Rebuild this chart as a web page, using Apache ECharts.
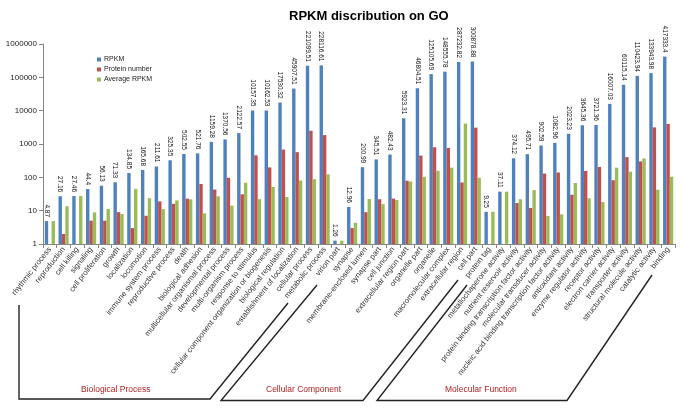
<!DOCTYPE html>
<html>
<head>
<meta charset="utf-8">
<script src="https://cdn.jsdelivr.net/npm/echarts@6/dist/echarts.min.js"></script>
<style>
html,body{margin:0;padding:0;background:#fff;}
#c{width:683px;height:409px;}
</style>
</head>
<body>
<div id="c"></div>
<script>
const categories = [
  "rhythmic process","reproduction","cell killing","signaling","cell proliferation","growth",
  "localization","locomotion","immune system process","reproductive process","death",
  "biological adhesion","multicellular organismal process","developmental process",
  "multi-organism process","response to stimulus","cellular component organization or biogenesis",
  "biological regulation","establishment of localization","cellular process","metabolic process",
  "virion part","synapse","membrane-enclosed lumen","synapse part","cell junction",
  "extracellular region part","organelle part","organelle","macromolecular complex",
  "extracellular region","cell part",
  "protein tag","metallochaperone activity","nutrient reservoir activity",
  "protein binding transcription factor activity","molecular transducer activity",
  "nucleic acid binding transcription factor activity","antioxidant activity",
  "enzyme regulator activity","receptor activity","electron carrier activity",
  "transporter activity","structural molecule activity","catalytic activity","binding"
];
const rpkm = [
  4.87,27.16,27.46,44.4,56.13,71.33,134.85,165.68,211.61,325.35,502.55,521.76,1159.28,1370.56,
  2122.57,10157.35,10162.53,17530.32,45907.51,221099.51,228116.61,
  1.26,12.96,200.99,345.51,482.43,5923.31,46804.51,125105.69,148555.78,287232.82,300878.88,
  9.25,37.11,374.12,495.71,902.59,1082.96,2023.23,3645.36,3721.36,16007.03,60115.14,
  110423.94,133943.98,417333.4
];
const proteinNumber = [
  1,2,1,5,5,9,3,7,19,16,23,63,43,97,31,458,198,680,570,2500,1850,
  1,3,9,22,23,79,450,800,760,70,3100,
  1,1,17,12,130,140,30,155,205,82,405,300,3150,4000
];
const averageRpkm = [
  4.87,13.58,27.46,8.88,11.23,7.93,44.95,23.67,11.14,20.33,21.85,8.28,26.96,14.13,68.47,
  22.18,51.33,25.78,80.54,88.44,123.31,
  1.26,4.32,22.33,15.71,20.98,74.98,104.01,156.38,195.47,4103.33,97.06,
  9.25,37.11,22.01,41.31,6.94,7.74,67.44,23.52,18.15,195.21,148.43,368.08,42.52,104.33
];
const yTicks = ["1","10","100","1000","10000","100000","1000000"];
const groups = ["Biological Process","Cellular Component","Molecular Function"];

const FONT = '"Liberation Sans", Arial, sans-serif';
const chart = echarts.init(document.getElementById('c'), null, {renderer:'canvas'});
const lineStyle = {stroke:'#222', lineWidth:1.4, fill:null};
const groupText = (t, x) => ({
  type:'text', left:x, top:385,
  style:{text:t, fill:'#B22222', font:'8.5px ' + FONT}
});
chart.setOption({
  animation:false,
  backgroundColor:'#fff',
  textStyle:{fontFamily:FONT},
  title:{
    text:'RPKM discribution on GO', left:284, top:5,
    textStyle:{fontSize:13, fontWeight:'bold', color:'#000', fontFamily:FONT}
  },
  legend:{
    orient:'vertical', left:92, top:51,
    itemWidth:4, itemHeight:4, itemGap:3,
    icon:'rect',
    textStyle:{fontSize:7, color:'#222', fontFamily:FONT, padding:[0,0,0,-2]},
    data:['RPKM','Protein number','Average RPKM']
  },
  grid:{left:43, right:8, top:44, bottom:165, containLabel:false},
  xAxis:{
    type:'category', data:categories,
    axisLine:{lineStyle:{color:'#868686'}},
    axisTick:{show:true, length:4, lineStyle:{color:'#868686'}},
    axisLabel:{interval:0, rotate:52, fontSize:7.8, color:'#333', margin:4, fontFamily:FONT}
  },
  yAxis:{
    type:'log', logBase:10, min:1, max:1000000,
    axisLine:{show:true, lineStyle:{color:'#868686'}},
    axisTick:{show:true, length:4, lineStyle:{color:'#868686'}},
    splitLine:{show:false},
    axisLabel:{fontSize:8, color:'#222', margin:6, fontFamily:FONT,
      formatter:(v)=>{ const i=Math.round(Math.log10(v)); return yTicks[i]!==undefined?yTicks[i]:''; }}
  },
  series:[
    {name:'RPKM', type:'bar', data:rpkm, barGap:'0%', barCategoryGap:'26%',
     itemStyle:{color:'#4F81BD'},
     label:{show:true, position:'top', rotate:-90, align:'right', verticalAlign:'middle',
       distance:4, fontSize:6.5, color:'#111', fontFamily:FONT,
       formatter:(p)=>String(rpkm[p.dataIndex])}},
    {name:'Protein number', type:'bar', data:proteinNumber, itemStyle:{color:'#C0504D'}},
    {name:'Average RPKM', type:'bar', data:averageRpkm, itemStyle:{color:'#9BBB59'}}
  ],
  graphic:[
    {type:'polyline', shape:{points:[[19,305],[19,399],[210,399],[288,303]]}, style:lineStyle},
    {type:'polyline', shape:{points:[[317,285],[221,400.5],[363,400.5],[458,280]]}, style:lineStyle},
    {type:'polyline', shape:{points:[[467,285],[377,400.5],[567,400.5],[652,275]]}, style:lineStyle},
    groupText(groups[0], 81),
    groupText(groups[1], 266),
    groupText(groups[2], 445)
  ]
});
</script>
</body>
</html>
